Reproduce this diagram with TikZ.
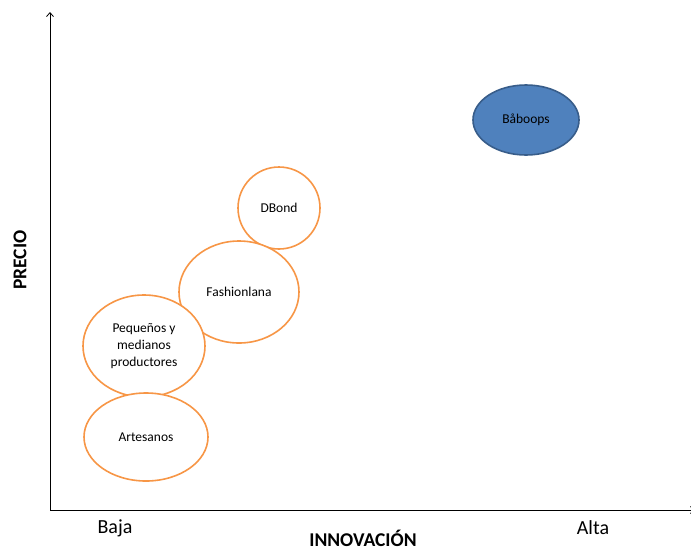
\documentclass[tikz,border=0pt]{standalone}
\usepackage{fontspec}
\setmainfont{Carlito}
\usetikzlibrary{shapes.geometric,arrows.meta,positioning}
\definecolor{naranja}{HTML}{F79646}
\definecolor{azul}{HTML}{4F81BD}
\definecolor{azulborde}{HTML}{385D8A}
\tikzset{
	%Define standard arrow tip
	>={Straight Barb[length=4pt,width=7pt]},
	% Define style for bubbles
	burbuja/.style={
		ellipse,
		draw=naranja, line width=1.6pt,
		fill=white,
		align=center,
		inner sep=0pt,
		font=\fontsize{13.5}{17}\selectfont},
	lider/.style={
		burbuja,
		draw=azulborde, fill=azul},
	% Define axis style
	eje/.style={
		->,
		line width=0.8pt},
	etiqueta/.style={font=\fontsize{20}{24}\selectfont},
	titulo/.style={font=\fontsize{19.5}{24}\selectfont\bfseries, inner sep=1pt}
}

\begin{document}
\begin{tikzpicture}[x=1pt,y=-1pt]
	\useasboundingbox (0,0) rectangle (691,550);
	\coordinate (O) at (50,510);
	\coordinate (ytop) at (50,12);
	\coordinate (xend) at (695,510);
	\draw[eje] (O) -- (ytop);
	\draw[eje] (O) -- (xend);
	\node[lider,minimum width=106,minimum height=70] (baboops) at (526,120) {B\r{a}boops};
	\node[burbuja,minimum width=82,minimum height=82] (dbond) at (279,208) {DBond};
	\node[burbuja,minimum width=120,minimum height=102] (fashion) at (239,292) {Fashionlana};
	\node[burbuja,minimum width=122,minimum height=102] (pyme) at (144,346) {Pequeños y\\medianos\\productores};
	\node[burbuja,minimum width=124,minimum height=88] (artesanos) at (146,437) {Artesanos};
	\node[etiqueta] (baja) at (115,528) {Baja};
	\node[etiqueta] (alta) at (593,528) {Alta};
	\node[titulo] (innov) at (363,538) {INNOVACIÓN};
	\node[titulo,rotate=90] (precio) at (20,260) {PRECIO};
\end{tikzpicture}
\end{document}
